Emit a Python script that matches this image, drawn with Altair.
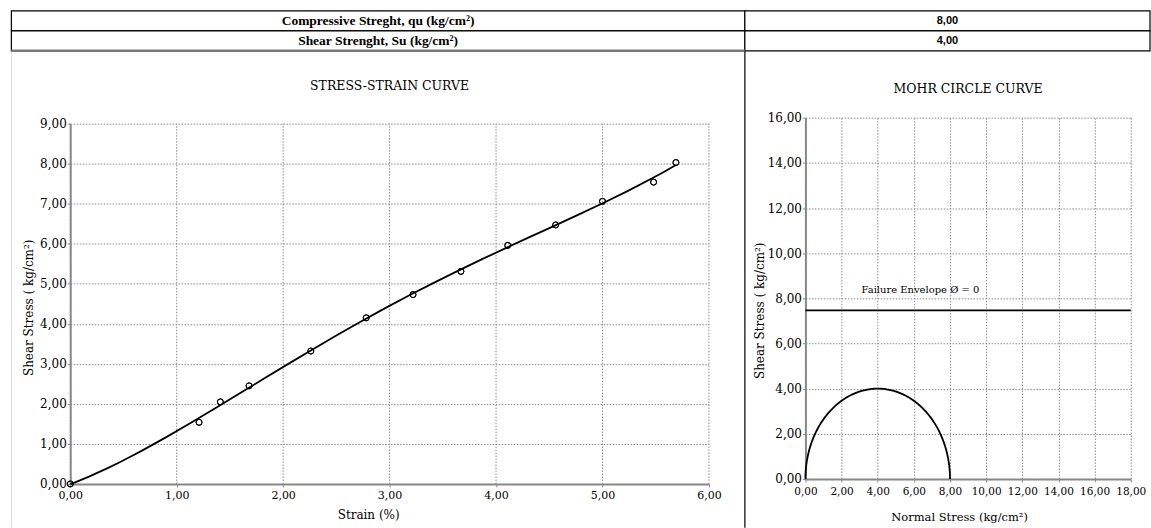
import altair as alt
import pandas as pd

# ---------------- data ----------------
strain_pct = [0.00, 1.21, 1.41, 1.68, 2.26, 2.78, 3.22, 3.67, 4.11, 4.56, 5.00, 5.48, 5.69]
shear_stress = [0.00, 1.54, 2.05, 2.45, 3.32, 4.15, 4.73, 5.31, 5.96, 6.47, 7.06, 7.54, 8.03]

summary_row = [0, 1]
summary_labels = ["Compressive Streght, qu (kg/cm²)", "Shear Strenght, Su (kg/cm²)"]
summary_values = ["8,00", "4,00"]

sigma_1 = [8.00]          # qu, major principal stress
sigma_3 = [0.00]          # unconfined
envelope_tau = [7.47]
envelope_from = [0.0]
envelope_to = [18.0]
envelope_text = ["Failure Envelope Ø  = 0"]
envelope_text_sigma = [3.1]

strain_ticks = [0, 1, 2, 3, 4, 5, 6]
stress_ticks = [0, 1, 2, 3, 4, 5, 6, 7, 8, 9]
normal_ticks = [0, 2, 4, 6, 8, 10, 12, 14, 16, 18]
mohr_tau_ticks = [0, 2, 4, 6, 8, 10, 12, 14, 16]

FONT = "DejaVu Serif"
COMMA = "replace(format(datum.value, '.2f'), '.', ',')"
GRID = "#8c8c8c"
DASH = [1.5, 1.5]

one = pd.DataFrame({"k": [0]})

# ---------------- header table (also carries the page's frame lines) ----------------
hdr = pd.DataFrame({"row": summary_row, "label": summary_labels, "value": summary_values})
row_y = alt.Y("row:O", axis=None, scale=alt.Scale(paddingInner=0, paddingOuter=0))
hbase = alt.Chart(hdr)
cell_l = hbase.mark_rect(fill="white", stroke="black", strokeWidth=1.2).encode(
    y=row_y, x=alt.value(-59), x2=alt.value(676))
cell_r = hbase.mark_rect(fill="white", stroke="black", strokeWidth=1.2).encode(
    y=row_y, x=alt.value(676), x2=alt.value(1082))
txt_l = hbase.mark_text(font="Liberation Serif", fontWeight="bold", fontSize=13.5, color="black").encode(
    y=row_y, x=alt.value(308.5), text="label:N")
txt_r = hbase.mark_text(font="Liberation Sans", fontWeight="bold", fontSize=11, color="black").encode(
    y=row_y, x=alt.value(879), text="value:N")
under = alt.Chart(one).mark_rule(color="#7a7a7a", strokeWidth=2.5).encode(
    x=alt.value(-59), x2=alt.value(676), y=alt.value(40))
left_border = alt.Chart(one).mark_rule(color="#dcdcdc", strokeWidth=1).encode(
    x=alt.value(-59), y=alt.value(41), y2=alt.value(518))
divider = alt.Chart(one).mark_rule(color="#333333", strokeWidth=1.5).encode(
    x=alt.value(676), y=alt.value(40), y2=alt.value(518))
header = alt.layer(cell_l, cell_r, txt_l, txt_r, under, left_border, divider).properties(
    width=1082, height=40)

# ---------------- stress-strain chart ----------------
pts = pd.DataFrame({"strain": strain_pct, "stress": shear_stress})
LEFT_H = 367  # view height; plot frame starts 6px lower than the Mohr chart

x_axis_l = alt.Axis(values=strain_ticks, labelExpr=COMMA, title="Strain (%)", grid=False,
                    labelFontSize=11, titleFontSize=12, labelPadding=3, labelFlush=False,
                    labelOverlap=False, titlePadding=9, titleX=298.5)
y_axis_l = alt.Axis(values=stress_ticks, labelExpr=COMMA, title="Shear Stress ( kg/cm²)", grid=True,
                    labelFontSize=12, titleFontSize=12, labelPadding=1, labelFlush=False,
                    labelOverlap=False, titleX=-42, titleY=190, titleAlign="center",
                    titleBaseline="middle")
y_scale_l = alt.Scale(domain=[0, 9], nice=False, range=[LEFT_H, 6])


def xl(field="strain"):
    return alt.X(f"{field}:Q", scale=alt.Scale(domain=[0, 6], nice=False, zero=False), axis=x_axis_l)


def yl(field="stress"):
    return alt.Y(f"{field}:Q", scale=y_scale_l, axis=y_axis_l)


pts_layer = alt.Chart(pts).mark_point(shape="circle", filled=False, color="black", size=36,
                                      strokeWidth=1, opacity=1).encode(x=xl(), y=yl())
trend = alt.Chart(pts).transform_regression(
    "strain", "stress", method="poly", order=4, extent=[0, 5.69]
).mark_line(color="black", strokeWidth=1.8).encode(x=xl(), y=yl())
vgrid = alt.Chart(pd.DataFrame({"v": strain_ticks})).mark_rule(
    color=GRID, strokeDash=DASH, strokeWidth=1).encode(
    x=xl("v"),
    y=alt.Y(datum=stress_ticks[0], type="quantitative", scale=y_scale_l, axis=y_axis_l),
    y2=alt.Y2(datum=stress_ticks[-1]))
left = alt.layer(pts_layer, vgrid, trend, pts_layer).properties(
    width=640, height=LEFT_H,
    title=alt.TitleParams("STRESS-STRAIN CURVE", frame="group", offset=25, fontSize=12.5,
                          font=FONT, fontWeight="normal", color="black"))

# ---------------- Mohr circle chart ----------------
c = (sigma_1[0] + sigma_3[0]) / 2
r = (sigma_1[0] - sigma_3[0]) / 2


def xr(field):
    return alt.X(f"{field}:Q", scale=alt.Scale(domain=[0, 18], nice=False, zero=False),
                 axis=alt.Axis(values=normal_ticks, labelExpr=COMMA, title="Normal Stress (kg/cm²)",
                               labelFontSize=10.5, titleFontSize=11.5, labelPadding=5,
                               labelFlush=False, labelOverlap=False,
                               titlePadding=14, titleX=154))


def yr(field):
    return alt.Y(f"{field}:Q", scale=alt.Scale(domain=[0, 16], nice=False),
                 axis=alt.Axis(values=mohr_tau_ticks, labelExpr=COMMA, title="Shear Stress ( kg/cm²)",
                               labelFontSize=12, titleFontSize=12, labelPadding=1,
                               labelFlush=False, labelOverlap=False,
                               titleX=-46, titleY=193, titleAlign="center", titleBaseline="middle"))


circle = alt.Chart(alt.sequence(0, 181, 1, as_="t")).transform_calculate(
    sigma=f"{c} + {r} * cos(datum.t * PI / 180)",
    tau=f"{r} * sin(datum.t * PI / 180)",
).mark_line(color="black", strokeWidth=1.8).encode(x=xr("sigma"), y=yr("tau"), order="t:Q")

env = pd.DataFrame({"s0": envelope_from, "s1": envelope_to, "tau": envelope_tau})
env_line = alt.Chart(env).mark_rule(color="black", strokeWidth=1.8).encode(
    x=xr("s0"), x2="s1:Q", y=yr("tau"))
lab = pd.DataFrame({"sigma": envelope_text_sigma, "tau": envelope_tau, "text": envelope_text})
env_text = alt.Chart(lab).mark_text(align="left", baseline="middle", dy=-20, fontSize=10,
                                    font=FONT, color="black").encode(
    x=xr("sigma"), y=yr("tau"), text="text:N")
right = alt.layer(circle, env_line, env_text).properties(
    width=326, height=362,
    title=alt.TitleParams("MOHR CIRCLE CURVE", frame="group", offset=16, fontSize=12.5,
                          font=FONT, fontWeight="normal", color="black"))

chart = alt.vconcat(
    header,
    alt.hconcat(left, right, spacing=96.7, bounds="flush"),
    spacing=67,
    bounds="flush",
).properties(
    padding={"left": 9.4, "top": 9.4, "right": 0, "bottom": 0},
    background="white",
).configure_view(stroke=None).configure_axis(
    domainColor="#888888", domainWidth=2, gridColor=GRID, gridDash=DASH,
    gridWidth=1, tickColor="#888888", tickSize=3, labelFont=FONT, titleFont=FONT,
    labelColor="black", titleColor="black", titleFontWeight="normal",
)

chart.save("out.html", embed_options={"renderer": "svg", "actions": False})
